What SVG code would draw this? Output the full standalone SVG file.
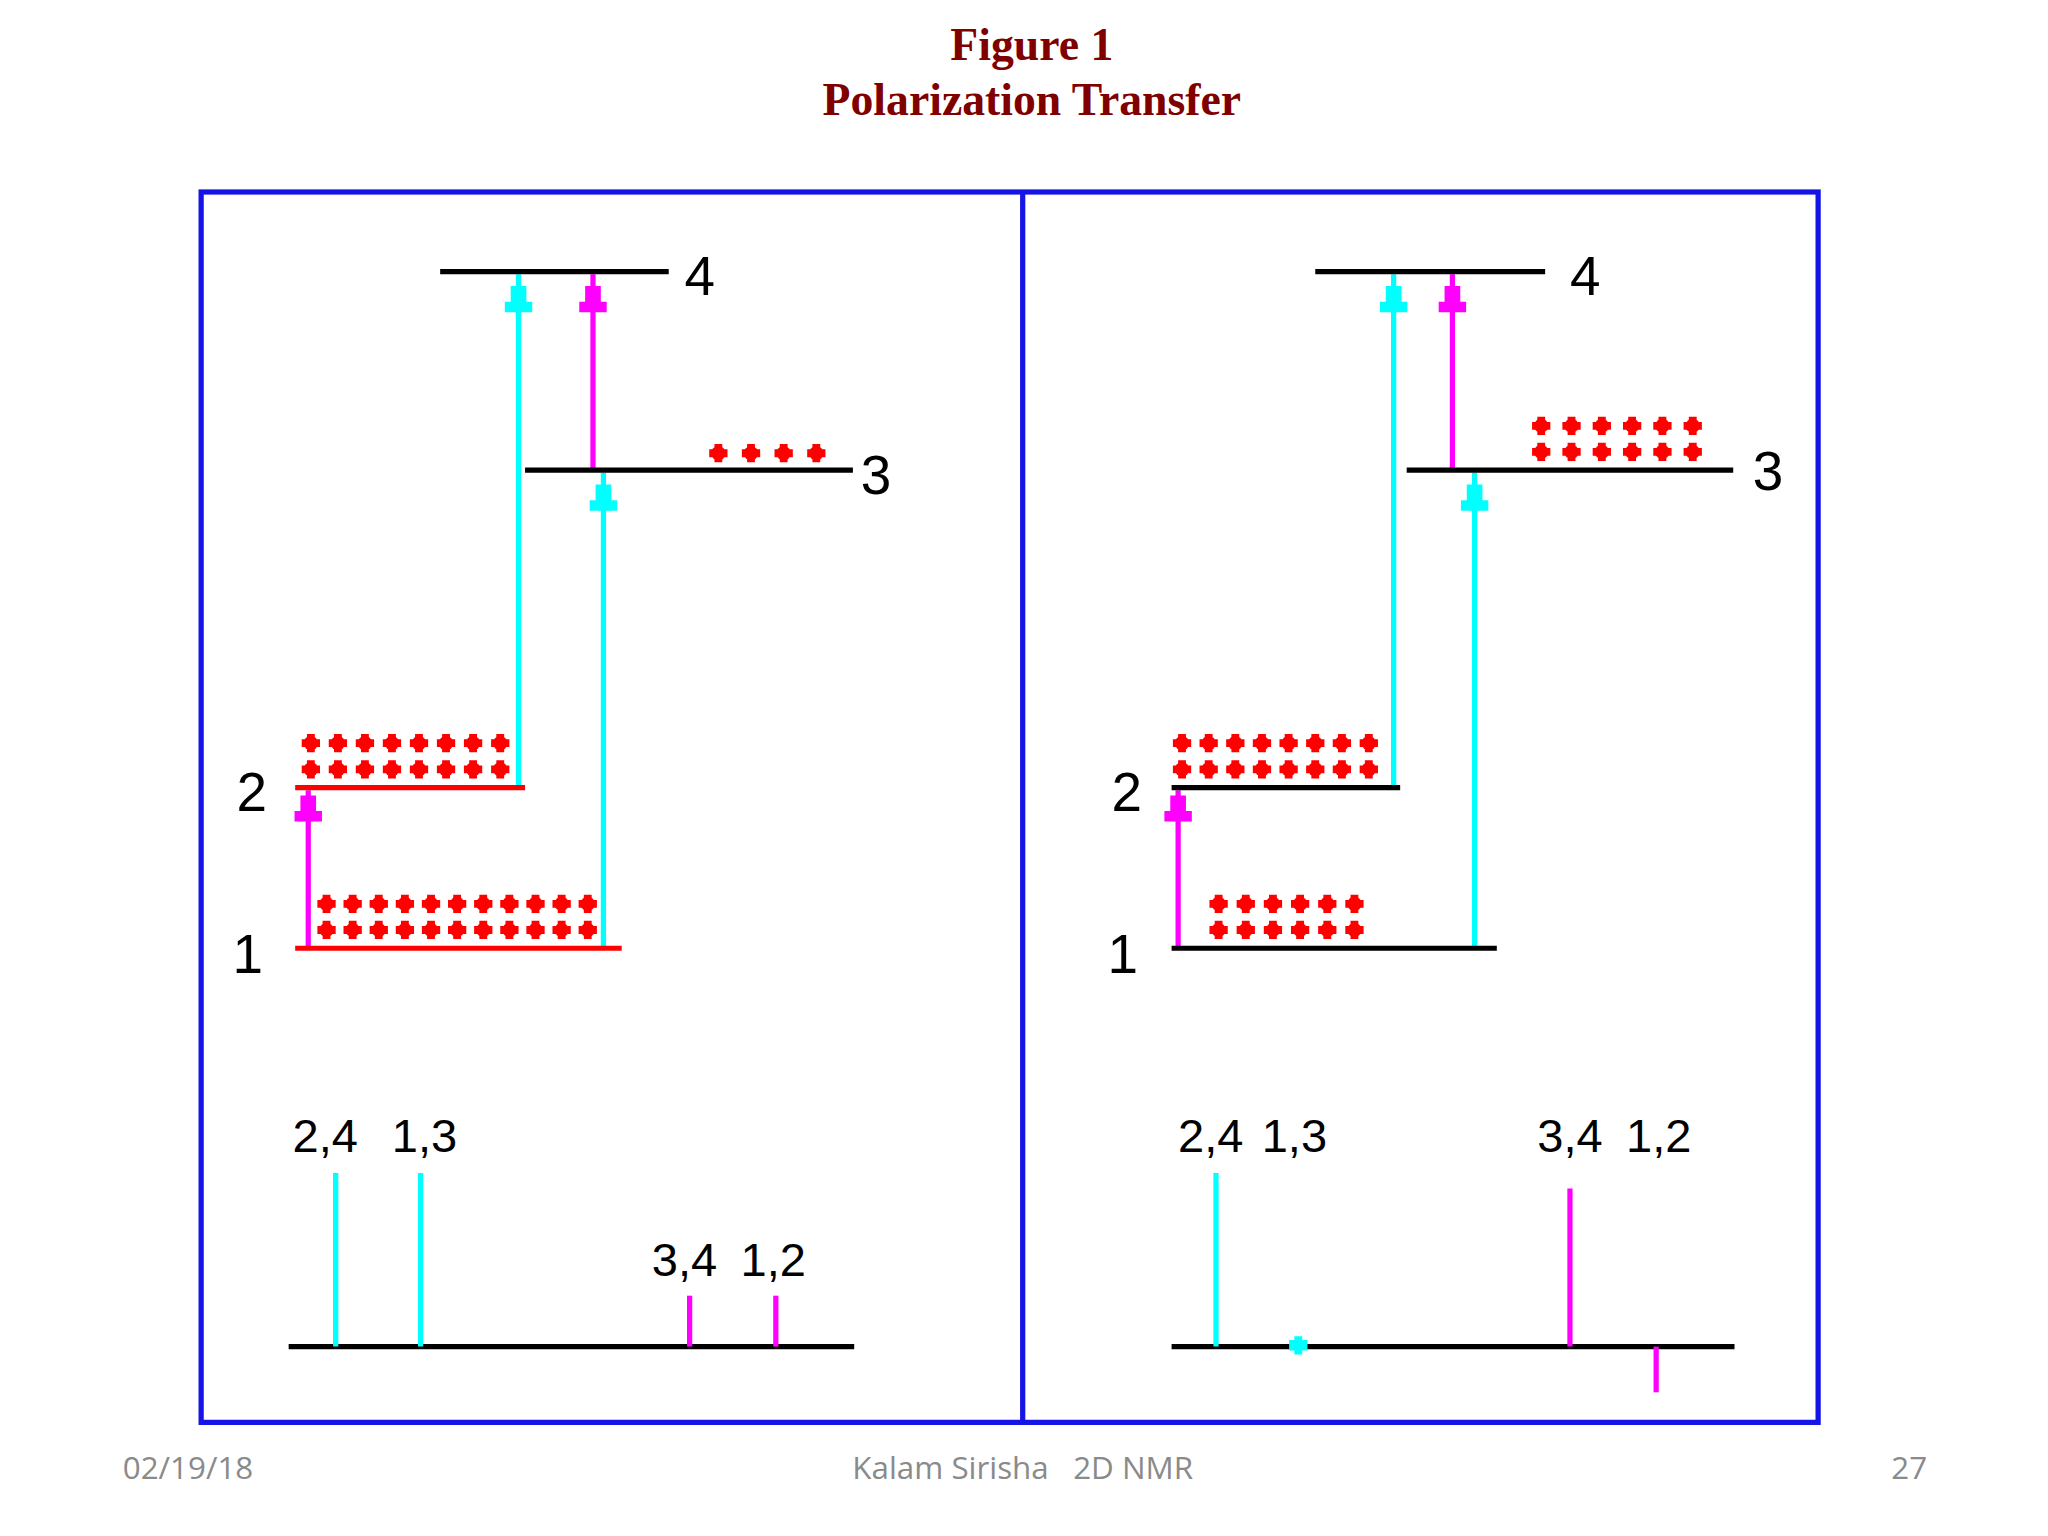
<svg xmlns="http://www.w3.org/2000/svg" width="2048" height="1536" viewBox="0 0 2048 1536">
<defs>
<style>
.t{font-family:"Liberation Serif",serif;font-weight:bold;font-size:35px;fill:#800000;text-anchor:middle}
.f{font-family:"Open Sans","Liberation Sans",sans-serif;font-size:24px;fill:#8a8a8a}
.n{font-family:"Liberation Sans",sans-serif;font-size:42px;fill:#000}
.s{font-family:"Liberation Sans",sans-serif;font-size:36px;fill:#000}
.k{stroke:#000;stroke-width:4}
.r{stroke:#f00;stroke-width:4}
.c{stroke:#00ffff;stroke-width:4}
.m{stroke:#ff00ff;stroke-width:4}
</style>
<g id="d"><path d="M-3,-7H3V-3H7V3H3V7H-3V3H-7V-3H-3Z" fill="#f00"/><circle r="5.5" fill="#f00"/></g>
<path id="ah" d="M-6,11H6V23H10.5V31H-10.5V23H-6Z"/>
</defs>
<rect width="2048" height="1536" fill="#fff"/>
<g transform="scale(1.30612)">
<g id="title"><text class="t" x="790" y="46">Figure 1</text><text class="t" x="790" y="88">Polarization Transfer</text></g>
<g id="frame" fill="none" stroke="#1414e6" stroke-width="4"><rect x="154" y="147" width="1238" height="942"/><line x1="783" y1="147" x2="783" y2="1089"/></g>
<g id="footer"><text class="f" x="94" y="1132">02/19/18</text><text class="f" x="783" y="1132" text-anchor="middle" xml:space="preserve">Kalam Sirisha   2D NMR</text><text class="f" x="1448" y="1132">27</text></g>

<g id="connectors">
<line class="c" x1="397" y1="603" x2="397" y2="210"/><use href="#ah" x="397" y="208" fill="#00ffff"/>
<line class="m" x1="454" y1="360" x2="454" y2="210"/><use href="#ah" x="454" y="208" fill="#ff00ff"/>
<line class="c" x1="462" y1="726" x2="462" y2="362"/><use href="#ah" x="462" y="360" fill="#00ffff"/>
<line class="m" x1="236" y1="726" x2="236" y2="605"/><use href="#ah" x="236" y="598" fill="#ff00ff"/>
<line class="c" x1="1067" y1="603" x2="1067" y2="210"/><use href="#ah" x="1067" y="208" fill="#00ffff"/>
<line class="m" x1="1112" y1="360" x2="1112" y2="210"/><use href="#ah" x="1112" y="208" fill="#ff00ff"/>
<line class="c" x1="1129" y1="726" x2="1129" y2="362"/><use href="#ah" x="1129" y="360" fill="#00ffff"/>
<line class="m" x1="902" y1="726" x2="902" y2="605"/><use href="#ah" x="902" y="598" fill="#ff00ff"/>
</g>

<g id="L4"><line class="k" x1="337" y1="208" x2="512" y2="208"/><text class="n" x="524" y="226">4</text></g>
<g id="L3"><line class="k" x1="402" y1="360" x2="653" y2="360"/><text class="n" x="659" y="378">3</text>
<use href="#d" x="550" y="347"/><use href="#d" x="575" y="347"/><use href="#d" x="600" y="347"/><use href="#d" x="625" y="347"/></g>
<g id="L2"><line class="r" x1="226" y1="603" x2="402" y2="603"/><text class="n" x="181" y="621">2</text>
<g id="L2dots"><use href="#d" x="238" y="569"/><use href="#d" x="258.7" y="569"/><use href="#d" x="279.4" y="569"/><use href="#d" x="300.1" y="569"/><use href="#d" x="320.8" y="569"/><use href="#d" x="341.5" y="569"/><use href="#d" x="362.2" y="569"/><use href="#d" x="383" y="569"/></g>
<use href="#L2dots" y="20"/></g>
<g id="L1"><line class="r" x1="226" y1="726" x2="476" y2="726"/><text class="n" x="178" y="745">1</text>
<g id="L1dots"><use href="#d" x="250" y="692"/><use href="#d" x="270" y="692"/><use href="#d" x="290" y="692"/><use href="#d" x="310" y="692"/><use href="#d" x="330" y="692"/><use href="#d" x="350" y="692"/><use href="#d" x="370" y="692"/><use href="#d" x="390" y="692"/><use href="#d" x="410" y="692"/><use href="#d" x="430" y="692"/><use href="#d" x="450" y="692"/></g>
<use href="#L1dots" y="20"/></g>

<g id="specL">
<line class="k" x1="221" y1="1031" x2="654" y2="1031"/>
<line class="c" x1="257" y1="898" x2="257" y2="1031"/><line class="c" x1="322" y1="898" x2="322" y2="1031"/>
<line class="m" x1="528" y1="992" x2="528" y2="1031"/><line class="m" x1="594" y1="992" x2="594" y2="1031"/>
<text class="s" x="224" y="882">2,4</text><text class="s" x="300" y="882">1,3</text>
<text class="s" x="499" y="977">3,4</text><text class="s" x="567" y="977">1,2</text>
</g>

<g id="R4"><line class="k" x1="1007" y1="208" x2="1183" y2="208"/><text class="n" x="1202" y="226">4</text></g>
<g id="R3"><line class="k" x1="1077" y1="360" x2="1327" y2="360"/><text class="n" x="1342" y="375">3</text>
<g id="R3dots"><use href="#d" x="1180" y="326"/><use href="#d" x="1203.2" y="326"/><use href="#d" x="1226.4" y="326"/><use href="#d" x="1249.6" y="326"/><use href="#d" x="1272.8" y="326"/><use href="#d" x="1296" y="326"/></g>
<use href="#R3dots" y="20"/></g>
<g id="R2"><line class="k" x1="897" y1="603" x2="1072" y2="603"/><text class="n" x="851" y="621">2</text>
<g id="R2dots"><use href="#d" x="905" y="569"/><use href="#d" x="925.4" y="569"/><use href="#d" x="945.8" y="569"/><use href="#d" x="966.2" y="569"/><use href="#d" x="986.6" y="569"/><use href="#d" x="1007" y="569"/><use href="#d" x="1027.4" y="569"/><use href="#d" x="1048" y="569"/></g>
<use href="#R2dots" y="20"/></g>
<g id="R1"><line class="k" x1="897" y1="726" x2="1146" y2="726"/><text class="n" x="848" y="745">1</text>
<g id="R1dots"><use href="#d" x="933" y="692"/><use href="#d" x="953.8" y="692"/><use href="#d" x="974.6" y="692"/><use href="#d" x="995.4" y="692"/><use href="#d" x="1016.2" y="692"/><use href="#d" x="1037" y="692"/></g>
<use href="#R1dots" y="20"/></g>

<g id="specR">
<line class="k" x1="897" y1="1031" x2="1328" y2="1031"/>
<line class="c" x1="931" y1="898" x2="931" y2="1031"/>
<path d="M991,1023H997V1026H1001V1034H997V1037H991V1034H987V1026H991Z" fill="#00ffff"/>
<line class="m" x1="1202" y1="910" x2="1202" y2="1031"/><line class="m" x1="1268" y1="1031" x2="1268" y2="1066"/>
<text class="s" x="902" y="882">2,4</text><text class="s" x="966" y="882">1,3</text>
<text class="s" x="1177" y="882">3,4</text><text class="s" x="1245" y="882">1,2</text>
</g>
</g>
</svg>
